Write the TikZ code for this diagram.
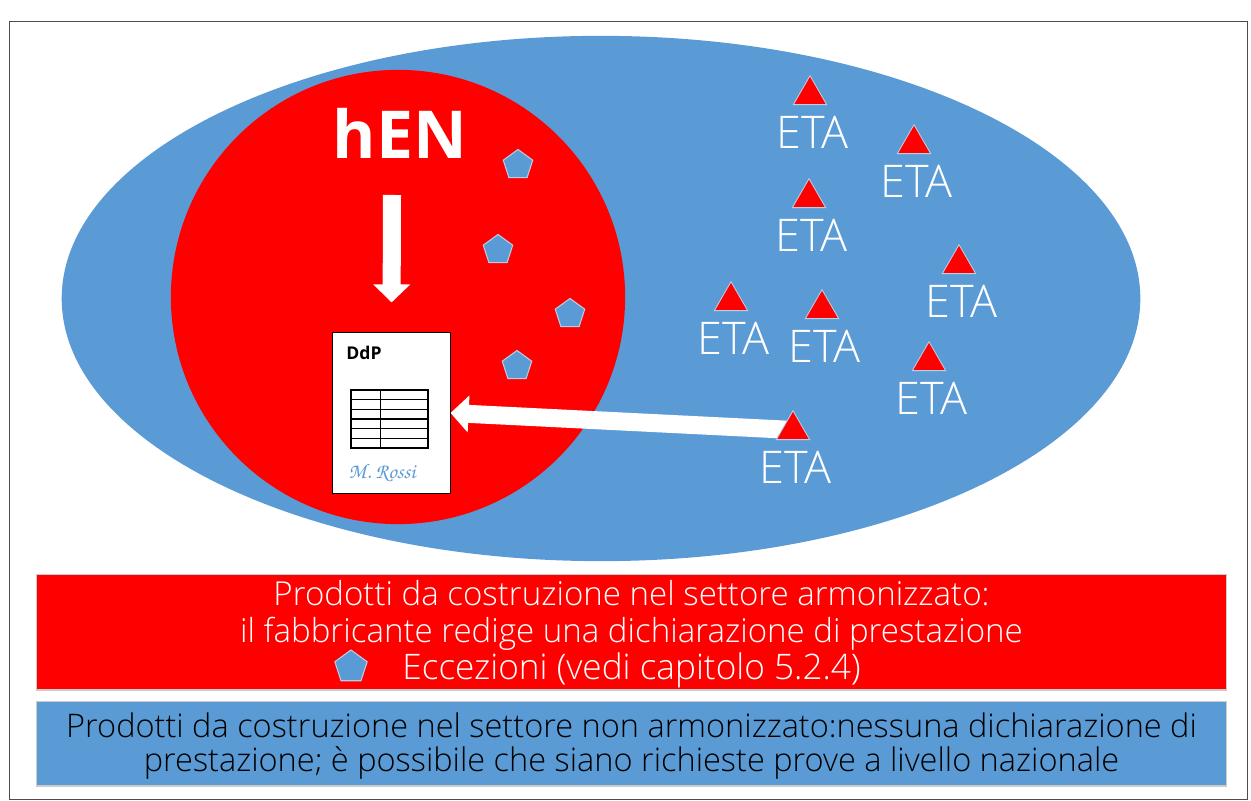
\documentclass[tikz,border=0pt]{standalone}
\usepackage{fontspec}
\setmainfont{Open Sans}[UprightFont=* Light,BoldFont=* Bold]
\usepackage{tikz}
\usetikzlibrary{positioning,shapes.geometric,arrows.meta,calc}
\definecolor{azzurro}{HTML}{5B9BD5}
\definecolor{bordino}{HTML}{B9CDE5}

\begin{document}
\begin{tikzpicture}[
x=0.01cm,y=-0.01cm,
triangolo/.style={
  regular polygon,
  regular polygon sides=3,
  fill=red,
  draw=bordino,
  line width=0.25pt,
  inner sep=0pt,
  minimum size=0.385cm},
pentagono/.style={
  regular polygon,
  regular polygon sides=5,
  fill=azzurro,
  draw=bordino,
  line width=0.3pt,
  inner sep=0pt,
  minimum size=0.31cm},
etichetta/.style={
  inner sep=0pt,
  text=white,
  font=\fontsize{12.8}{12.8}\selectfont},
freccia/.style={
  draw=white,
  line width=0.18cm,
  -{Triangle[length=0.18cm,width=0.36cm]}},
fascia/.style={
  minimum width=11.89cm,
  inner sep=0pt,
  draw=black!20,
  line width=0.3pt},
testo/.style={
  inner sep=0pt,
  align=center}
]
\useasboundingbox (0,0) rectangle (1251,801);
\node[draw=black!70,line width=0.4pt,minimum width=12.37cm,minimum height=7.77cm,inner sep=0pt] (cornice) at (628.5,410.5) {};
\node[ellipse,fill=azzurro,minimum width=10.78cm,minimum height=5.25cm,inner sep=0pt] (nonarm) at (601,298.5) {};
\node[circle,fill=red,minimum size=4.54cm,inner sep=0pt] (arm) at (398,297) {};
\node[text=white,font=\fontsize{18.8}{18.8}\bfseries\selectfont] (hen) at (400,133) {hEN};
% documento
\node[draw=black,fill=white,line width=0.3pt,minimum width=1.17cm,minimum height=1.6cm,inner sep=0pt] (ddp) at (391.5,413) {};
\node[font=\fontsize{5}{5}\bfseries\selectfont,inner sep=0pt] (titolo) at (364,353) {DdP};
\node[draw=black,line width=0.3pt,minimum width=0.77cm,minimum height=0.58cm,inner sep=0pt] (tabella) at (389.5,419) {};
\foreach \Riga in {1,...,5}
  \draw[line width=0.3pt] ($(tabella.north west)!\Riga/6!(tabella.south west)$) -- ($(tabella.north east)!\Riga/6!(tabella.south east)$);
\draw[line width=0.3pt] ($(tabella.north west)!0.38!(tabella.north east)$) -- ($(tabella.south west)!0.38!(tabella.south east)$);
\node[text=azzurro,inner sep=0pt,font=\fontsize{6}{6}\usefont{OT1}{pzc}{m}{it}] (firma) at (382,473) {M. Rossi};
% frecce
\coordinate (inizio) at (392,195);
\draw[freccia,shorten >=0.3cm] (inizio) -- (ddp.north);
\coordinate (t8) at (793,430);
\draw[freccia] (t8) -- (ddp.east);
\foreach \Nodo/\X/\Y in {a/518/165,b/498/250,c/570/314,d/517/366}
  \node[pentagono] (p\Nodo) at (\X,\Y) {};
\foreach \Nodo/\X/\Y in {1/810/95,2/914/144,3/809/198,4/959/264,5/731/301,6/822/309,7/929/361,8/793/430}{
  \node[triangolo] (t\Nodo) at (\X,\Y) {};
  \node[etichetta,below=0.1cm of t\Nodo,xshift=0.025cm] (e\Nodo) {ETA};
}
% legenda
\node[fascia,fill=red,minimum height=1.15cm] (rosso) at (631.5,632.5) {};
\node[testo,text=white,font=\fontsize{9.4}{10.5}\selectfont,below=0.02cm of rosso.center,anchor=center] (testorosso)
  {Prodotti da costruzione nel settore armonizzato:\\il fabbricante redige una dichiarazione di prestazione\\\fontsize{10}{10.5}\selectfont Eccezioni (vedi capitolo 5.2.4)};
\node[pentagono,minimum size=0.34cm] (pe) at (351,667) {};
\node[fascia,fill=azzurro,minimum height=0.84cm] (blu) at (631.5,744) {};
\node[testo,text=black,font=\fontsize{9.25}{9.7}\selectfont,below=0.02cm of blu.center,anchor=center] (testoblu)
  {Prodotti da costruzione nel settore non armonizzato:nessuna dichiarazione di\\prestazione; è possibile che siano richieste prove a livello nazionale};
\end{tikzpicture}
\end{document}
